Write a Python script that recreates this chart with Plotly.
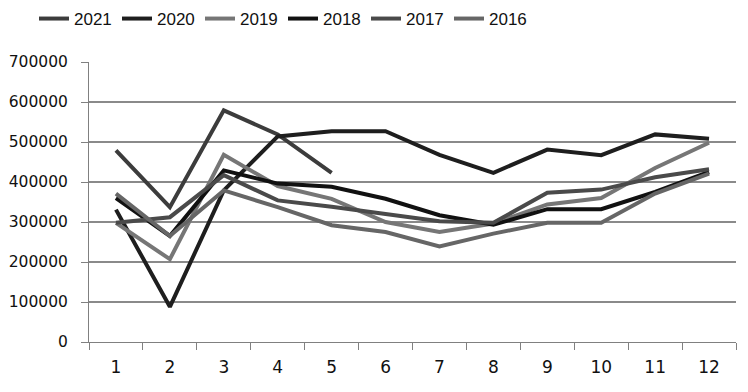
import plotly.graph_objects as go

months = [str(i) for i in range(1, 13)]
years = ["2021", "2020", "2019", "2018", "2017", "2016"]

v2021 = [479000, 337000, 579000, 519000, 423000]
v2020 = [331000, 88000, 379000, 514000, 527000, 527000, 468000, 423000, 481000, 467000, 519000, 508000]
v2019 = [298000, 207000, 468000, 390000, 358000, 300000, 275000, 296000, 344000, 360000, 435000, 498000]
v2018 = [360000, 265000, 429000, 396000, 388000, 358000, 317000, 293000, 332000, 332000, 375000, 425000]
v2017 = [298000, 312000, 417000, 354000, 338000, 321000, 302000, 298000, 373000, 381000, 412000, 432000]
v2016 = [371000, 265000, 379000, 337000, 292000, 275000, 239000, 271000, 298000, 298000, 371000, 421000]

series = [v2021, v2020, v2019, v2018, v2017, v2016]
colors = ["#3c3c3c", "#1e1e1e", "#767676", "#111111", "#4a4a4a", "#666666"]

fig = go.Figure()
for name, vals, c in zip(years, series, colors):
    fig.add_trace(go.Scatter(
        x=months[:len(vals)], y=vals, name=name, mode="lines",
        line=dict(color=c, width=4)))

fig.update_layout(
    width=748, height=392,
    margin=dict(l=81, r=20, t=54, b=58, autoexpand=False),
    plot_bgcolor="white", paper_bgcolor="white",
    showlegend=True,
    legend=dict(orientation="h", xref="container", yref="paper",
                x=26 / 748, xanchor="left", y=1 + (54 - 11) / 280, yanchor="middle",
                font=dict(family="Liberation Sans Narrow, Liberation Sans", size=17, color="#111111"),
                itemwidth=30, tracegroupgap=0,
                entrywidth=38, entrywidthmode="pixels"),
    font=dict(family="DejaVu Sans", color="#111111"),
)

fig.update_xaxes(
    type="category", tickson="boundaries", ticks="outside", ticklen=7,
    tickcolor="#808080", showline=True, linecolor="#808080", linewidth=1,
    showgrid=False, tickfont=dict(family="DejaVu Sans", size=17, color="#111111"),
    ticklabelstandoff=10, range=[-0.5, 11.5])
fig.update_yaxes(
    range=[0, 700000], dtick=100000, tickformat="d", ticks="outside", ticklen=7,
    tickcolor="#808080", showline=True, linecolor="#808080", linewidth=1,
    showgrid=True, gridcolor="#8a8a8a", gridwidth=1.5, zeroline=False,
    tickfont=dict(family="DejaVu Sans", size=15.5, color="#111111"),
    ticklabelstandoff=10)

fig.write_html("out.html")
